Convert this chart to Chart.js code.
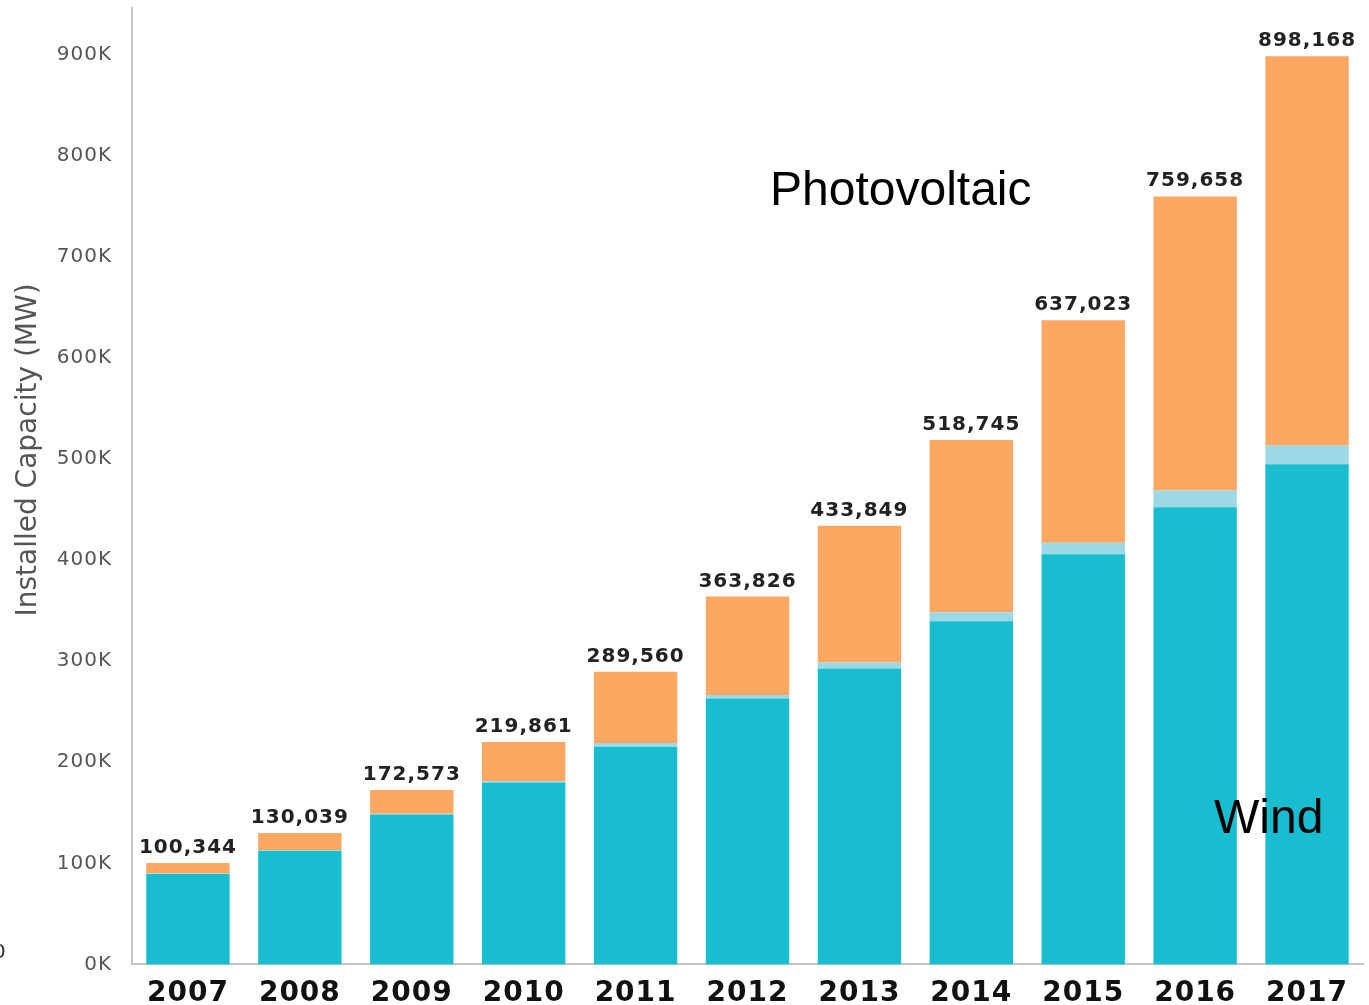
<!DOCTYPE html>
<html>
<head>
<meta charset="utf-8">
<script src="https://cdn.jsdelivr.net/npm/chart.js@4/dist/chart.umd.min.js"></script>
<style>
    html, body { margin: 0; padding: 0; background: #fff; }
    #wrap { width: 1369px; height: 1005px; position: relative; }
</style>
</head>
<body>
<div id="wrap"><canvas id="graficaCapacidad"></canvas></div>
<script>
// Capacidad instalada acumulada por año (MW)
const anios = ['2007', '2008', '2009', '2010', '2011', '2012', '2013', '2014', '2015', '2016', '2017'];
const eolica = [89500, 112300, 148200, 180000, 215400, 263000, 292700, 339400, 405600, 452200, 494800];
const otras = [500, 600, 700, 1100, 3500, 3500, 6000, 9000, 11500, 16500, 18400];
const fotovoltaica = [10344, 17139, 23673, 38761, 70660, 97326, 135149, 170345, 219923, 290958, 384968];
const ticksY = [0, 100000, 200000, 300000, 400000, 500000, 600000, 700000, 800000, 900000];

const colorEolica = '#19bdd0';
const colorOtras = '#9dd8e6';
const colorFV = '#fda862';

// Espaciado de letras para los textos de los ejes
const espaciado = {
    id: 'espaciado',
    beforeDraw(chart) { chart.ctx.letterSpacing = '1px'; },
    afterDraw(chart) { chart.ctx.letterSpacing = '0px'; }
};

// Totales encima de cada barra + rótulos de series + título del eje Y
const rotulos = {
    id: 'rotulos',
    afterDatasetsDraw(chart) {
        const ctx = chart.ctx;
        const meta = chart.getDatasetMeta(2);
        ctx.save();
        ctx.letterSpacing = '1px';
        ctx.fillStyle = '#222';
        ctx.font = 'bold 20px "DejaVu Sans", Verdana, sans-serif';
        ctx.textAlign = 'center';
        ctx.textBaseline = 'alphabetic';
        anios.forEach((a, i) => {
            const total = eolica[i] + otras[i] + fotovoltaica[i];
            const bar = meta.data[i];
            ctx.fillText(total.toLocaleString('en-US'), bar.x, bar.y - 10);
        });

        ctx.letterSpacing = '0px';
        ctx.fillStyle = '#000';
        ctx.textAlign = 'left';
        ctx.font = '48px "Liberation Sans", Arial, sans-serif';
        ctx.fillText('Photovoltaic', 770, 205);
        ctx.fillText('Wind', 1214, 833);

        ctx.font = '20px "DejaVu Sans", sans-serif';
        ctx.fillStyle = '#333';
        ctx.fillText('0', -7, 958);

        ctx.translate(29, 450);
        ctx.rotate(-Math.PI / 2);
        ctx.textAlign = 'center';
        ctx.textBaseline = 'middle';
        ctx.fillStyle = '#555';
        ctx.font = '28px "DejaVu Sans", Verdana, sans-serif';
        ctx.fillText('Installed Capacity (MW)', 0, 0);
        ctx.restore();
    }
};

const ctx = document.getElementById('graficaCapacidad').getContext('2d');
new Chart(ctx, {
    type: 'bar',
    data: {
        labels: anios,
        datasets: [
            { label: 'Wind', data: eolica, backgroundColor: colorEolica },
            { label: 'Other', data: otras, backgroundColor: colorOtras },
            { label: 'Photovoltaic', data: fotovoltaica, backgroundColor: colorFV }
        ]
    },
    options: {
        responsive: true,
        maintainAspectRatio: false,
        animation: false,
        layout: { padding: { left: 0, right: 6, top: 8, bottom: -11 } },
        datasets: {
            bar: { barPercentage: 0.745, categoryPercentage: 1.0 }
        },
        scales: {
            x: {
                stacked: true,
                grid: { display: false },
                border: { display: true, color: '#c4c4c4', width: 2 },
                ticks: {
                    color: '#111',
                    padding: 5,
                    font: { family: '"DejaVu Sans", Verdana, sans-serif', size: 28, weight: 'bold' }
                }
            },
            y: {
                stacked: true,
                min: 0,
                max: 946000,
                grid: { display: false },
                border: { display: true, color: '#c4c4c4', width: 2 },
                afterFit(scale) {
                    scale.width = 132;
                    scale.paddingTop = 0;
                },
                afterBuildTicks(scale) {
                    scale.ticks = ticksY.map(v => ({ value: v }));
                },
                ticks: {
                    color: '#555',
                    padding: 12,
                    font: { family: '"DejaVu Sans", Verdana, sans-serif', size: 20 },
                    callback: v => (v / 1000) + 'K'
                }
            }
        },
        plugins: {
            legend: { display: false },
            tooltip: { enabled: false }
        }
    },
    plugins: [espaciado, rotulos]
});
</script>
</body>
</html>
